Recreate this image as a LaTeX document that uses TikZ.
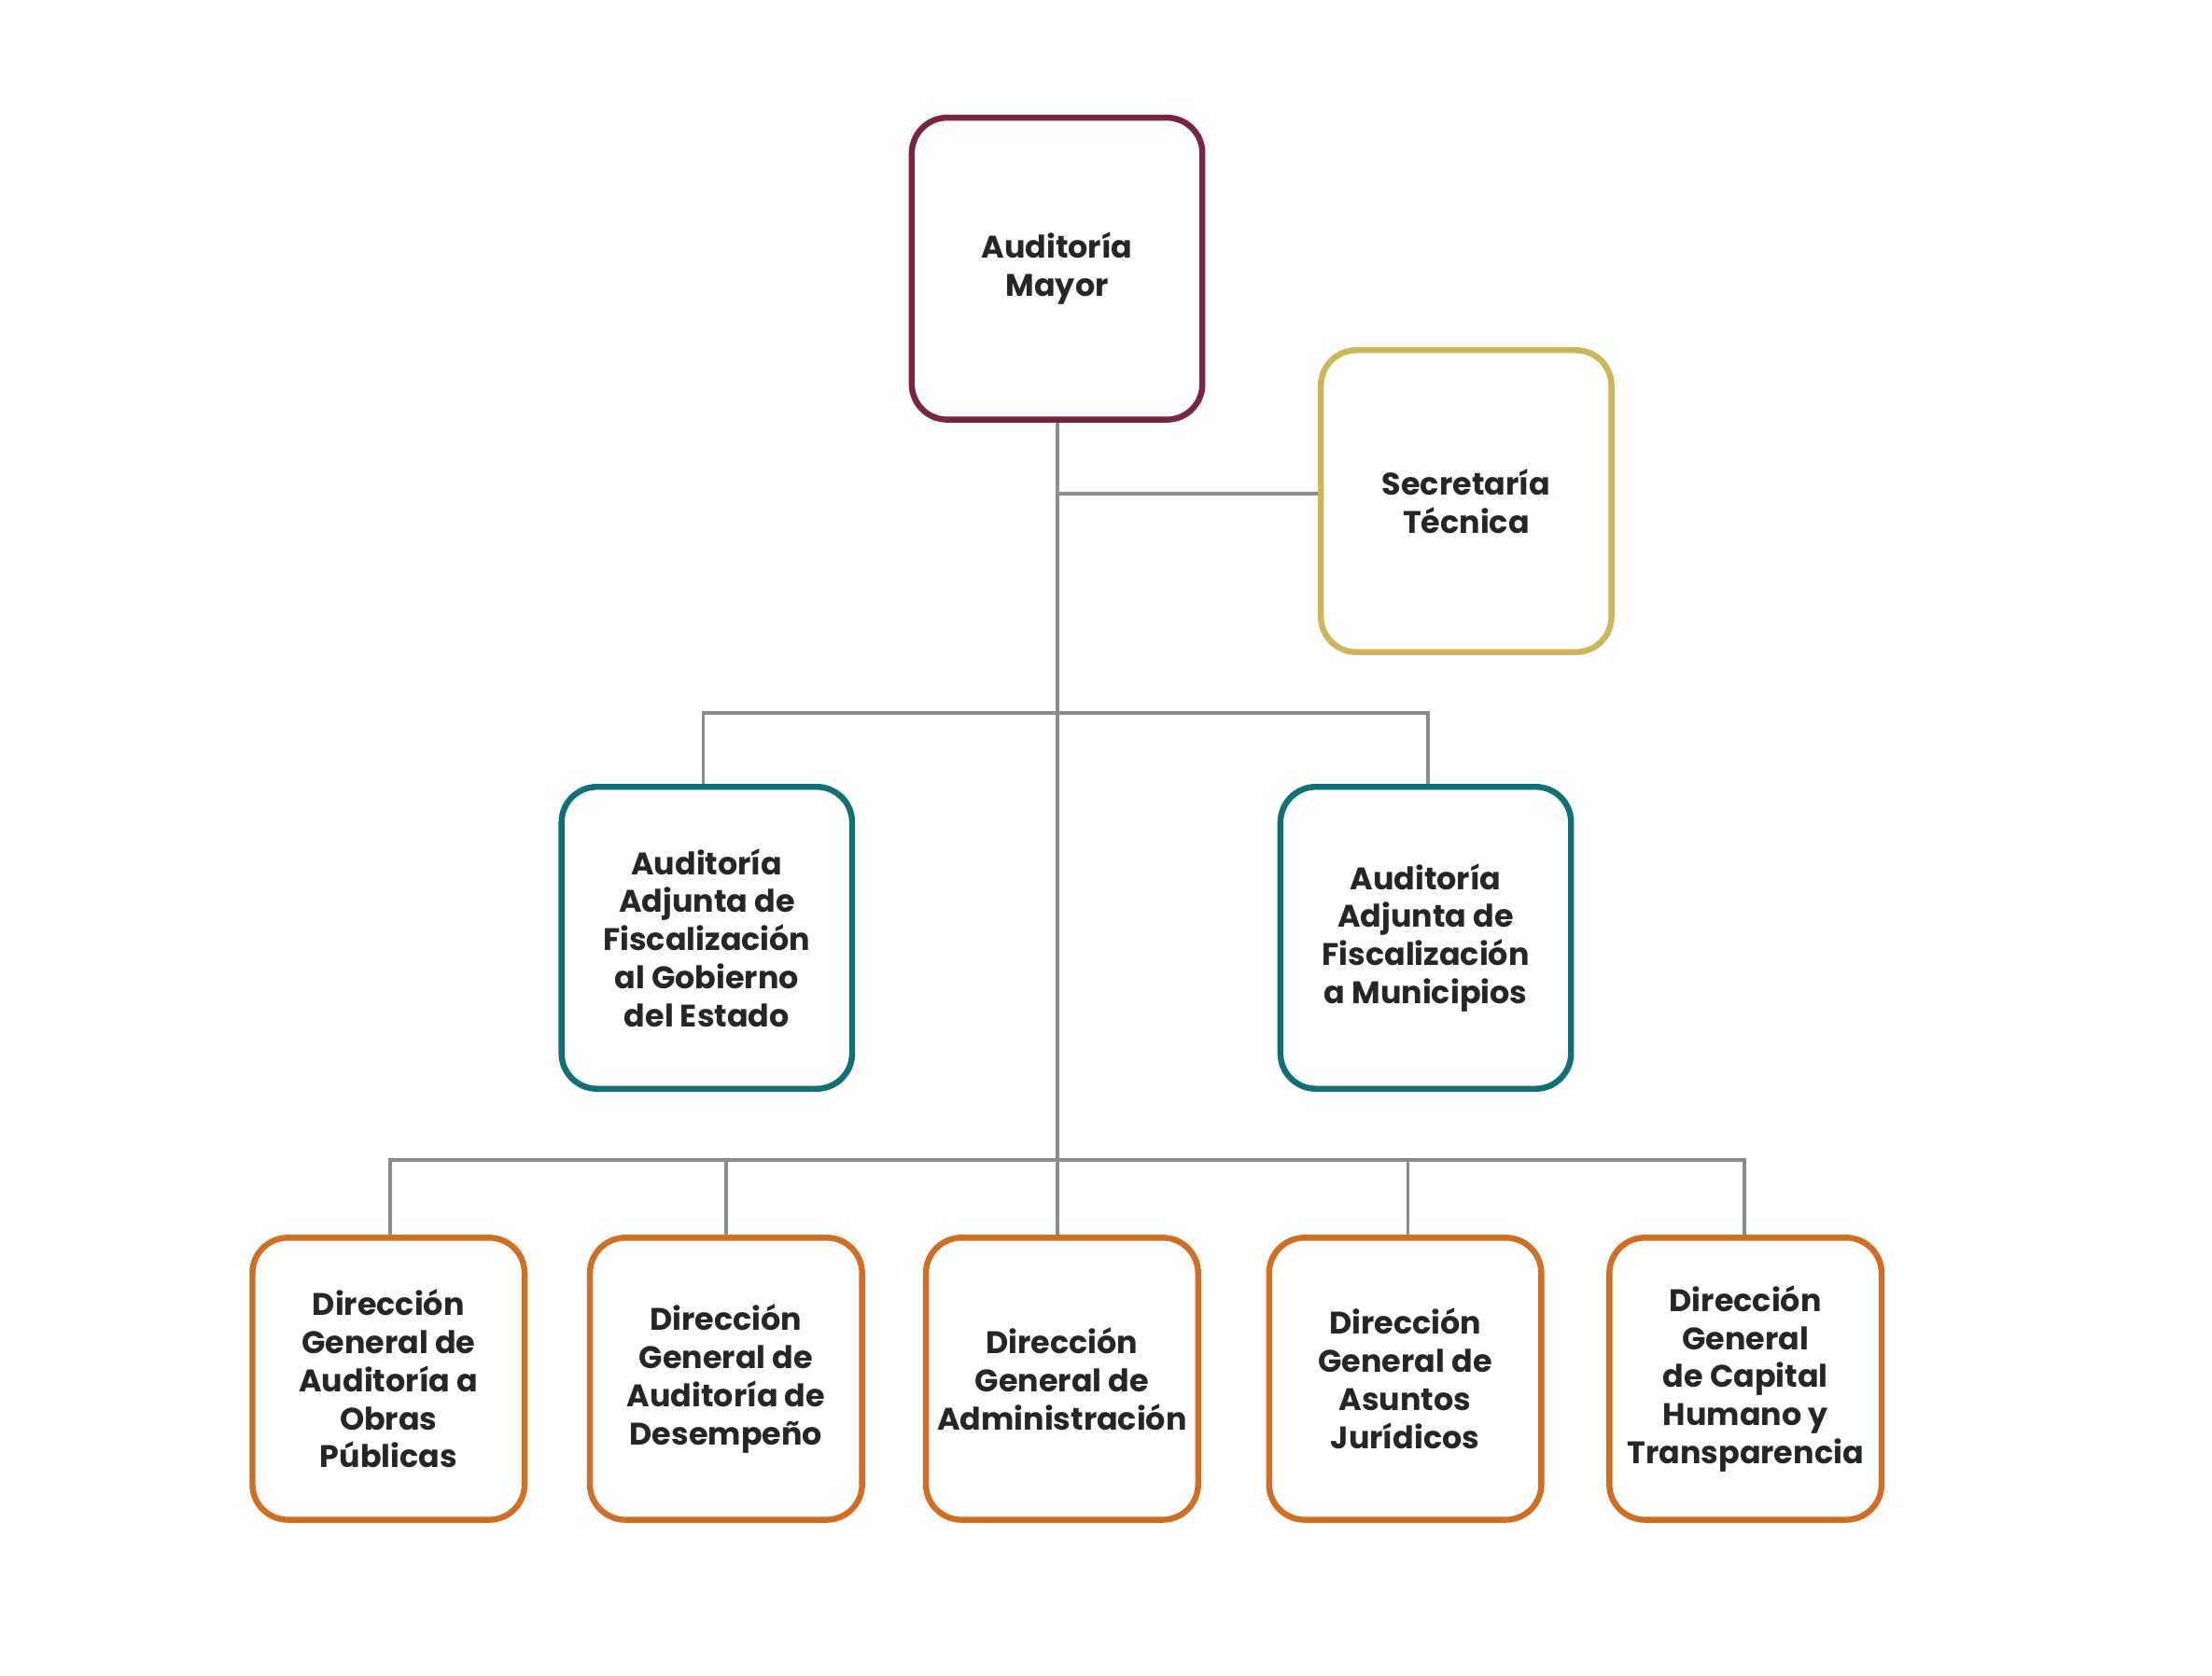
\documentclass[tikz,border=0pt]{standalone}
\usepackage{fontspec}
\setmainfont{Poppins}
\begin{document}
\begin{tikzpicture}[x=0.02cm,y=-0.02cm,
  box/.style={draw,line width=2.4pt,rounded corners=0.5cm,align=center,font=\bfseries\fontsize{12.5}{15.3}\selectfont,text=black!85},
  conn/.style={draw=black!45,line width=1.4pt}]
\definecolor{cmay}{HTML}{7B2346}
\definecolor{csec}{HTML}{CDB55A}
\definecolor{cteal}{HTML}{0F7173}
\definecolor{corg}{HTML}{D06F23}
\useasboundingbox[fill=white] (0,0) rectangle (1560,1182);
\node[box,draw=cmay,minimum width=4.1cm,minimum height=4.26cm] (am) at (745.5,189.5) {Auditoría\\Mayor};
\node[box,draw=csec,minimum width=4.1cm,minimum height=4.26cm] (st) at (1034,353.5) {Secretaría\\Técnica};
\node[box,draw=cteal,minimum width=4.1cm,minimum height=4.26cm] (ag) at (498.5,661.5) {Auditoría\\Adjunta de\\Fiscalización\\al Gobierno\\del Estado};
\node[box,draw=cteal,minimum width=4.1cm,minimum height=4.26cm] (amu) at (1005.5,661.5) {Auditoría\\Adjunta de\\Fiscalización\\a Municipios};
\foreach \n/\x/\t in {d1/274/{Dirección\\General de\\Auditoría a\\Obras\\Públicas},
  d2/512/{Dirección\\General de\\Auditoría de\\Desempeño},
  d3/749/{Dirección\\General de\\Administración},
  d4/991/{Dirección\\General de\\Asuntos\\Jurídicos},
  d5/1231/{Dirección\\General\\de Capital\\Humano y\\Transparencia}}
  \node[box,draw=corg,minimum width=3.84cm,minimum height=3.98cm] (\n) at (\x,972.5) {\t};
\coordinate (t1) at (746,348);
\coordinate (h2) at (746,503);
\coordinate (h3) at (746,818);
\draw[conn] (am.south -| h2) -- (h3);
\draw[conn] (t1) -- (st.west |- t1);
\draw[conn] (ag.north -| 496,0) |- (h2) -| (amu.north -| 1007,0);
\draw[conn] (d1.north -| 275,0) |- (h3) -| (d5.north -| 1230,0);
\foreach \n/\x in {d2/512,d3/746,d4/993}
  \draw[conn] (\n.north -| \x,0) -- (\x,818);
\end{tikzpicture}
\end{document}
